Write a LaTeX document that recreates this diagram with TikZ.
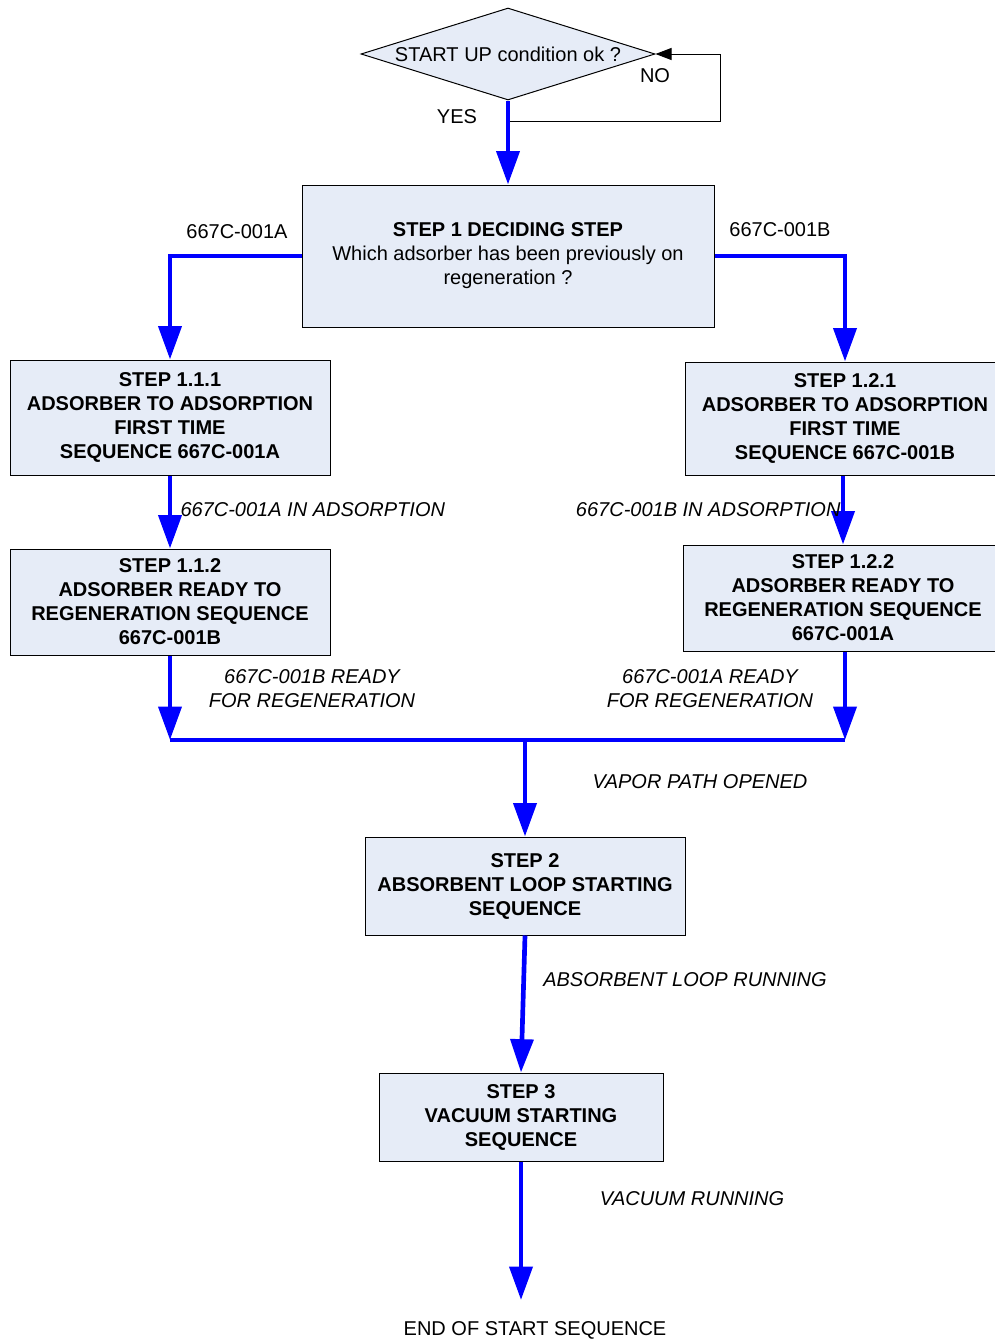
\documentclass[tikz,border=0pt]{standalone}
\usepackage{fontspec}
\setmainfont{Liberation Sans}
\usetikzlibrary{arrows.meta,shapes.geometric}

\definecolor{stepfill}{RGB}{230,236,247}
\definecolor{flowblue}{RGB}{0,0,255}

\tikzset{every picture/.style={line width=0.75pt}}
\tikzset{
  stepbox/.style={draw=black, fill=stepfill, align=center, inner sep=0pt, font=\fontsize{15}{18}\selectfont\bfseries},
  flow/.style={draw=flowblue, line width=3.5pt, -{Triangle[length=25pt,width=17pt]}},
  bus/.style={draw=flowblue, line width=3.5pt},
  loopline/.style={draw=black, line width=0.75pt, -{Triangle[length=12pt,width=9pt]}},
  lbl/.style={align=center, font=\fontsize{15}{18}\selectfont},
  statelbl/.style={align=center, font=\fontsize{15}{18}\selectfont\itshape}
}

\begin{document}
\begin{tikzpicture}[x=0.75pt,y=0.75pt,yscale=-1,xscale=1]
\useasboundingbox (0,0) rectangle (995,1342);
\clip (0,0) rectangle (995,1342);

%Shape: Diamond [id:start]
\node [draw=black, fill=stepfill, shape=diamond, aspect=3.2, minimum width=220.5pt, minimum height=69pt, inner sep=0pt, font=\fontsize{15}{18}\selectfont] (startok) at (508,54) {START UP condition ok ?};

%Shape: Rectangle [id:step1]
\node [stepbox, minimum width=309pt, minimum height=106.5pt, font=\fontsize{15}{18}\selectfont] (step1) at (508,256) {\textbf{STEP 1 DECIDING STEP}\\Which adsorber has been previously on\\regeneration ?};
%Shape: Rectangle [id:step111]
\node [stepbox, minimum width=240pt, minimum height=86.25pt] (step111) at (170,417.5) {STEP 1.1.1\\ADSORBER TO ADSORPTION\\FIRST TIME\\SEQUENCE 667C-001A};
%Shape: Rectangle [id:step112]
\node [stepbox, minimum width=240pt, minimum height=79.5pt] (step112) at (170,602) {STEP 1.1.2\\ADSORBER READY TO\\REGENERATION SEQUENCE\\667C-001B};
%Shape: Rectangle [id:step121]
\node [stepbox, minimum width=240pt, minimum height=84.75pt] (step121) at (845,418.5) {STEP 1.2.1\\ADSORBER TO ADSORPTION\\FIRST TIME\\SEQUENCE 667C-001B};
%Shape: Rectangle [id:step122]
\node [stepbox, minimum width=240pt, minimum height=79.5pt] (step122) at (843,598) {STEP 1.2.2\\ADSORBER READY TO\\REGENERATION SEQUENCE\\667C-001A};
%Shape: Rectangle [id:step2]
\node [stepbox, minimum width=240pt, minimum height=73.5pt] (step2) at (525,886) {STEP 2\\ABSORBENT LOOP STARTING\\SEQUENCE};
%Shape: Rectangle [id:step3]
\node [stepbox, minimum width=213pt, minimum height=66pt] (step3) at (521,1117) {STEP 3\\VACUUM STARTING\\SEQUENCE};

%Coordinates for the free ends
\coordinate (nojoin) at (508,121);
\coordinate (nocorner) at (720,121);
\coordinate (joinleft) at (170,740);
\coordinate (joinright) at (845,740);
\coordinate (joinmid) at (525,740);
\coordinate (endtip) at (521,1300);

%Straight Lines [id:noloop]
\draw [loopline] (nojoin) -- (nocorner) |- (startok.east);
%Straight Lines [id:yes]
\draw [flow] (startok.south) -- (step1.north);
%Straight Lines [id:toA]
\draw [flow] (step1.west) -| (step111.north);
%Straight Lines [id:toB]
\draw [flow] (step1.east) -| (step121.north);
%Straight Lines [id:A1A2]
\draw [flow] (step111.south) -- (step112.north);
%Straight Lines [id:B1B2]
\draw [flow] (step121.south -| step122.north) -- (step122.north);
%Straight Lines [id:A2join]
\draw [flow] (step112.south) -- (joinleft);
%Straight Lines [id:B2join]
\draw [flow] (step122.south -| joinright) -- (joinright);
%Straight Lines [id:bus]
\draw [bus] (joinleft) -- (joinright);
%Straight Lines [id:tostep2]
\draw [flow] (joinmid) -- (step2.north);
%Straight Lines [id:tostep3]
\draw [flow] (step2.south) -- (step3.north);
%Straight Lines [id:toend]
\draw [flow] (step3.south) -- (endtip);

% Text Node
\node [lbl] (nolbl) at (655,76) {NO};
% Text Node
\node [lbl] (yeslbl) at (457,117) {YES};
% Text Node
\node [lbl] (lblA) at (237,232) {667C-001A};
% Text Node
\node [lbl] (lblB) at (780,230) {667C-001B};
% Text Node
\node [statelbl, anchor=west, inner sep=0pt] (adsA) at (180,510) {667C-001A IN ADSORPTION};
% Text Node
\node [statelbl, anchor=east, inner sep=0pt] (adsB) at (841,510) {667C-001B IN ADSORPTION};
% Text Node
\node [statelbl] (readyB) at (312,689) {667C-001B READY\\FOR REGENERATION};
% Text Node
\node [statelbl] (readyA) at (710,689) {667C-001A READY\\FOR REGENERATION};
% Text Node
\node [statelbl] (vapor) at (700,782) {VAPOR PATH OPENED};
% Text Node
\node [statelbl] (looprun) at (685,980) {ABSORBENT LOOP RUNNING};
% Text Node
\node [statelbl] (vacrun) at (692,1199) {VACUUM RUNNING};
% Text Node
\node [lbl] (endseq) at (535,1330) {END OF START SEQUENCE};

\end{tikzpicture}
\end{document}
